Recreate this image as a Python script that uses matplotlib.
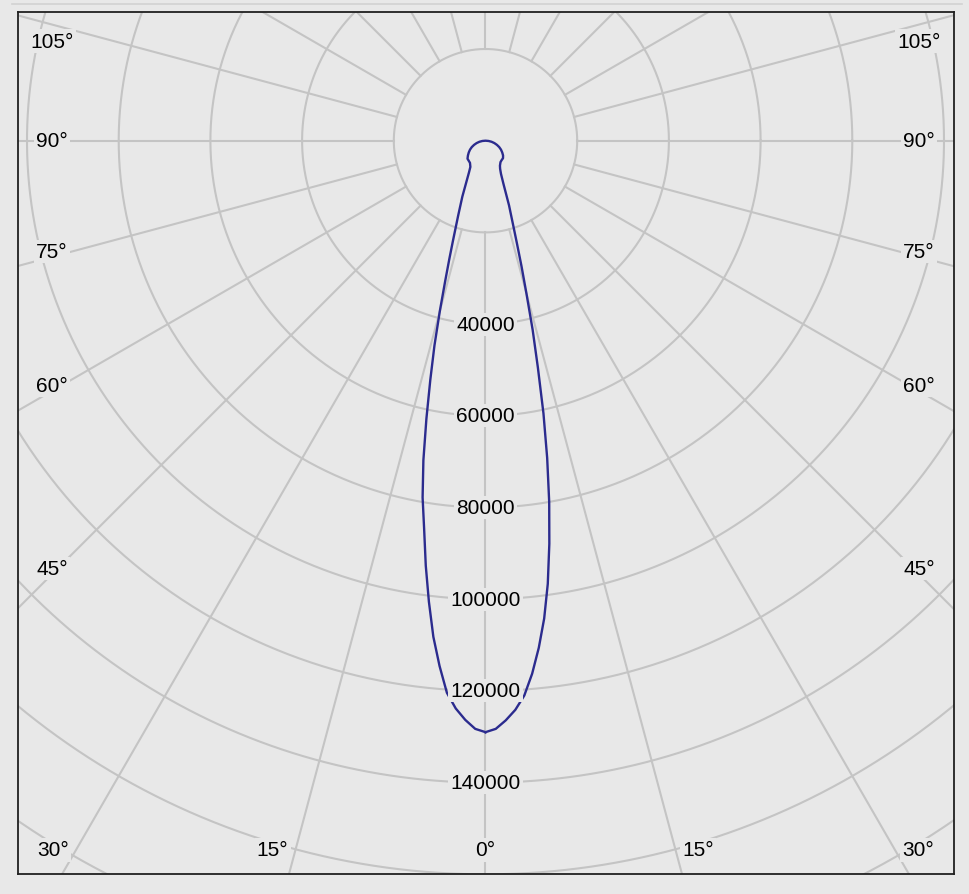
import numpy as np
import matplotlib.pyplot as plt
from matplotlib.lines import Line2D

# luminous intensity (cd) vs angle from nadir (deg)
angles = [0, 1, 2, 3, 4, 5, 6, 7, 8, 9, 10, 11, 12, 13, 14, 15, 16, 17, 18, 20,
          22.5, 25, 27.5, 30, 35, 40, 45, 50, 55, 60, 65, 70, 75, 80, 85, 90, 180]
# right half of the diagram (C0)
intensity_c0 = [129000, 128300, 126500, 124300, 121300, 116700, 111200, 105000, 97600, 89000,
                80000, 70500, 60800, 50800, 42500, 34500, 28500, 23500, 19800, 15000,
                10300, 8000, 6900, 6300, 5700, 5500, 5400, 5000, 4450, 3900,
                3300, 2650, 2000, 1350, 680, 0, 0]
# left half of the diagram (C180)
intensity_c180 = [129000, 128300, 126400, 124000, 120700, 115000, 108800, 101300, 93600, 85600,
                  79000, 71000, 62000, 53500, 46000, 38500, 32000, 27000, 23000, 17500,
                  13200, 9800, 7800, 6600, 5900, 5700, 5550, 5000, 4450, 3900,
                  3300, 2650, 2000, 1350, 680, 0, 0]

ring_values = [20000, 40000, 60000, 80000, 100000, 120000, 140000, 160000, 180000]
ring_labels = [40000, 60000, 80000, 100000, 120000, 140000]
angle_labels = [0, 15, 30, 45, 60, 75, 90, 105]

BG = '#e8e8e8'
GRID = '#c4c4c4'
CURVE = '#2b2b8e'

W, H = 969, 895
plt.rcParams['font.family'] = ['Liberation Sans', 'DejaVu Sans']

fig = plt.figure(figsize=(W / 100, H / 100), dpi=100, facecolor=BG)
# frame in pixels
left, right, top, bottom = 18, 954, 13, 875
ax = fig.add_axes([left / W, (H - bottom) / H, (right - left) / W, (bottom - top) / H])
ax.set_facecolor(BG)

# pole position (pixels) and scale
cx, cy = 485.5, 141.7
cd_per_px = 20000 / 91.7
ax.set_xlim((left - cx) * cd_per_px, (right - cx) * cd_per_px)
ax.set_ylim(-(bottom - cy) * cd_per_px, (cy - top) * cd_per_px)
ax.set_xticks([])
ax.set_yticks([])
for s in ax.spines.values():
    s.set_linewidth(1.3)
    s.set_color('#202020')

# rings
phi = np.linspace(0, 2 * np.pi, 1441)
for r in ring_values:
    ax.plot(r * np.cos(phi), r * np.sin(phi), color=GRID, lw=1.5, zorder=1)

# radial lines every 15 deg, starting at the first ring
for a in range(0, 360, 15):
    t = np.radians(a)
    rr = np.array([ring_values[0], 400000])
    ax.plot(rr * np.sin(t), -rr * np.cos(t), color=GRID, lw=1.5, zorder=1)

# intensity curve
th = np.radians(angles)
i0 = np.array(intensity_c0)
i180 = np.array(intensity_c180)
xs = np.concatenate([i0 * np.sin(th), (-i180 * np.sin(th))[::-1]])
ys = np.concatenate([-i0 * np.cos(th), (-i180 * np.cos(th))[::-1]])
ax.plot(xs, ys, color=CURVE, lw=1.7, zorder=3, solid_joinstyle='round')

box = dict(facecolor=BG, edgecolor='none', pad=1.5)

# ring value labels along the 0 deg line
for v in ring_labels:
    ax.text(0, -v, f'{v}', ha='center', va='center', fontsize=15, color='black',
            bbox=box, zorder=5)

# angle labels where the rays meet an inset rectangle
side_d = 433.5 * cd_per_px
bot_d = 709.3 * cd_per_px
pad = 7 * cd_per_px
for a in angle_labels:
    t = np.radians(a)
    for sgn in ([1] if a == 0 else [-1, 1]):
        if a < 90 and bot_d * np.tan(t) <= side_d:
            x = sgn * bot_d * np.tan(t)
            y = -bot_d
            if a == 0:
                ha = 'center'
            else:
                ha = 'left' if sgn > 0 else 'right'
                x += sgn * pad
            va = 'center'
        else:
            x = sgn * side_d
            y = -side_d * np.cos(t) / np.sin(t)
            ha = 'center'
            va = 'baseline' if a < 90 else ('center' if a == 90 else 'top')
            if a > 90:
                y -= pad
        ax.text(x, y, f'{a}°', ha=ha, va=va, fontsize=15, color='black',
                bbox=box, zorder=5)

# thin window line above the frame
fig.add_artist(Line2D([12 / W, 962 / W], [1 - 5 / H, 1 - 5 / H], color='#d2d2d2', lw=1.2))

fig.savefig('out.png', dpi=100, facecolor=BG)
